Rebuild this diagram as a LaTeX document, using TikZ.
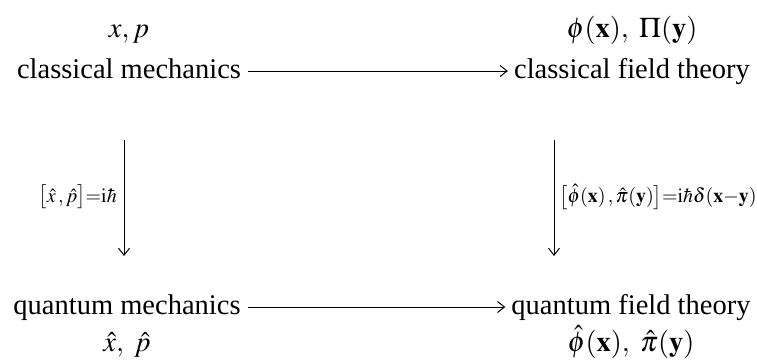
\documentclass[tikz,border=0pt]{standalone}
\usepackage{mathptmx}
\usepackage{fontspec}
\setmainfont{Liberation Serif}
\usetikzlibrary{arrows.meta}
\begin{document}
\begin{tikzpicture}[x=1pt,y=-1pt,
	every node/.style={anchor=base,inner sep=0pt,font=\fontsize{28.5}{34}\selectfont},
	lbl/.style={font=\fontsize{20}{24}\selectfont},
	arr/.style={-{Straight Barb[length=7pt,width=11pt]},line width=1pt}]
	\useasboundingbox (0,0) rectangle (757,360);
				\node (xp) at (129,37){$x, p$};
				\node (fld) at (632,37){$\phi(\mathbf{x}),\ \Pi(\mathbf{y})$};
				\node (cm) at (129,78){classical mechanics};
				\node (cft) at (632,78){classical field theory};
				\node (qm) at (127,314){quantum mechanics};
				\node (qft) at (631,314){quantum field theory};
				\node (xphat) at (127,351){$\hat{x},\ \hat{p}$};
				\node (fldhat) at (631,351){$\hat{\phi}(\mathbf{x}),\ \hat{\pi}(\mathbf{y})$};
				% quantisation arrows
				\coordinate (l1) at (124,140);
				\coordinate (l2) at (124,256);
				\coordinate (r1) at (554,140);
				\coordinate (r2) at (554,256);
				\node[lbl,anchor=east] (cxp) at (117,197){$\big[\hat{x}\,,\hat{p}\big]{=}\mathrm{i}\hbar$};
				\node[lbl,anchor=west] (cfld) at (559,197){$\big[\hat{\phi}(\mathbf{x})\,,\hat{\pi}(\mathbf{y})\big]{=}\mathrm{i}\hbar\delta(\mathbf{x}{-}\mathbf{y})$};
				\draw[arr] ([xshift=7pt,yshift=7pt]cm.base east) -- ([xshift=-6pt,yshift=7pt]cft.base west);
				\draw[arr] ([xshift=7pt,yshift=7pt]qm.base east) -- ([xshift=-6pt,yshift=7pt]qft.base west);
				\draw[arr] (l1) -- (l2);
				\draw[arr] (r1) -- (r2);
\end{tikzpicture}
\end{document}
